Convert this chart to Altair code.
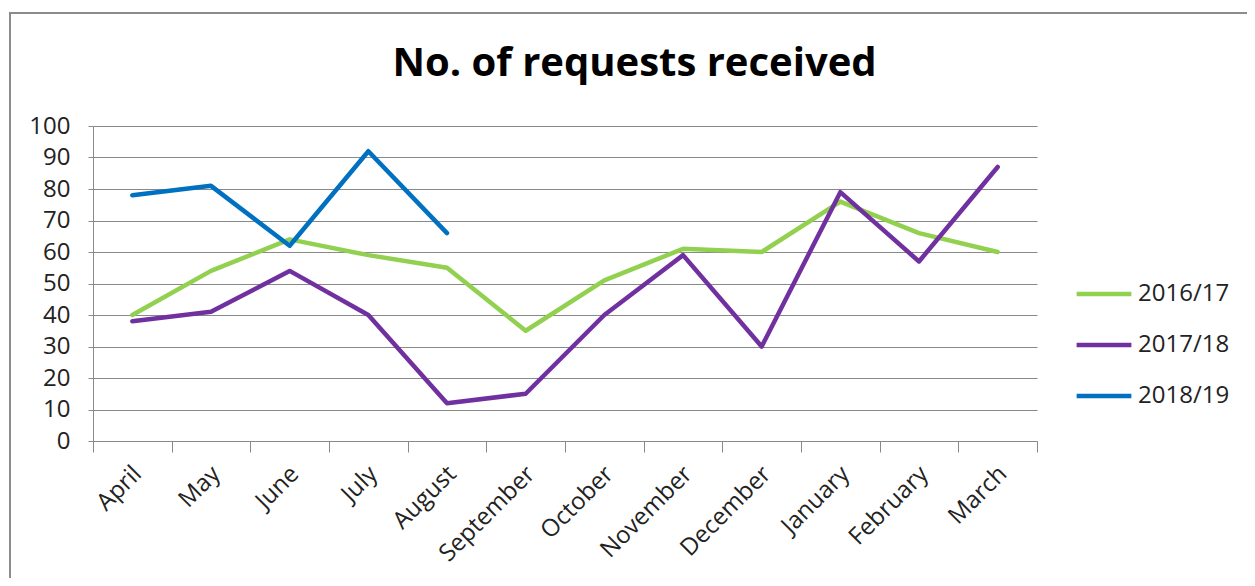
import altair as alt
import pandas as pd

months = ["April", "May", "June", "July", "August", "September", "October",
          "November", "December", "January", "February", "March"]
series_names = ["2016/17", "2017/18", "2018/19"]
v2016 = [40, 54, 64, 59, 55, 35, 51, 61, 60, 76, 66, 60]
v2017 = [38, 41, 54, 40, 12, 15, 40, 59, 30, 79, 57, 87]
v2018 = [78, 81, 62, 92, 66]
colors = ["#92D050", "#7030A0", "#0070C0"]
y_ticks = [0, 10, 20, 30, 40, 50, 60, 70, 80, 90, 100]
title_text = "No. of requests received"

rows = []
for name, vals in zip(series_names, [v2016, v2017, v2018]):
    for m, v in zip(months, vals):
        rows.append({"month": m, "series": name, "value": v})
df = pd.DataFrame(rows)

FONT = "Open Sans"
GRID = "#898989"

lines = alt.Chart(df).mark_line(strokeWidth=4.5, strokeCap="round", strokeJoin="round").encode(
    x=alt.X("month:N", sort=months, bandPosition=0.5,
            scale=alt.Scale(type="band", paddingInner=0, paddingOuter=0),
            axis=alt.Axis(title=None, labelAngle=-45, labelAlign="right", labelBaseline="middle",
                          labelFont=FONT, labelFontSize=24, labelColor="#222222",
                          labelPadding=18, labelOffset=5, tickBand="extent", tickSize=11,
                          tickColor=GRID, domainColor=GRID, grid=False)),
    y=alt.Y("value:Q", scale=alt.Scale(domain=[0, 100], nice=False),
            axis=alt.Axis(title=None, values=y_ticks, labelFont=FONT, labelFontSize=24,
                          labelColor="#222222", labelPadding=18, tickSize=5,
                          tickColor=GRID, domainColor=GRID, gridColor=GRID, grid=True)),
    color=alt.Color("series:N", sort=series_names,
                    scale=alt.Scale(domain=series_names, range=colors),
                    legend=alt.Legend(title=None, orient="none", legendX=981, legendY=138,
                                      symbolType="stroke", symbolSize=3000, symbolStrokeWidth=4.5,
                                      labelFont=FONT, labelFontSize=24, labelColor="#222222",
                                      labelOffset=4, rowPadding=9, padding=0)),
)

one = pd.DataFrame({"t": [title_text]})

border = alt.Chart(one).mark_rect(
    fill=None, stroke="#8c8c8c", strokeWidth=2
).encode(
    x=alt.value(-83), x2=alt.value(1170), y=alt.value(-113), y2=alt.value(480)
)

title = alt.Chart(one).mark_text(
    font=FONT, fontSize=40, fontWeight="bold", color="#000000",
    align="center", baseline="alphabetic"
).encode(text="t:N", x=alt.value(541.5), y=alt.value(-50))

chart = alt.layer(border, title, lines).properties(
    width=944, height=315,
    autosize=alt.AutoSizeParams(type="none"),
    padding={"left": 85, "top": 118, "right": 210, "bottom": 137},
).configure_view(stroke=None)

chart.save("out.html", embed_options={"renderer": "svg", "actions": False})
